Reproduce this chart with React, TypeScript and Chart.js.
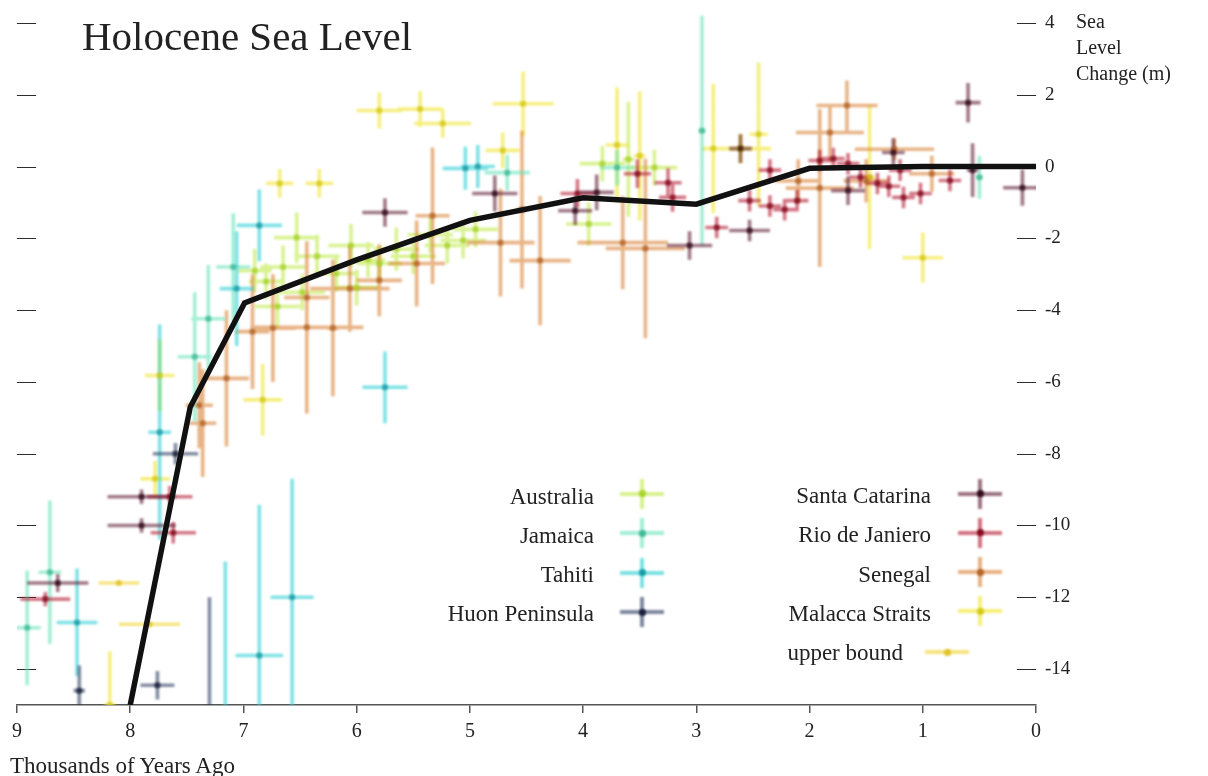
import React, { useEffect, useRef } from "react";
import { Chart, registerables } from "chart.js";

Chart.register(...registerables);

// ---- axis ticks ----
const X_TICKS = [9, 8, 7, 6, 5, 4, 3, 2, 1, 0];
const Y_TICKS = [4, 2, 0, -2, -4, -6, -8, -10, -12, -14];

// ---- fitted sea-level curve (thousands of years ago, metres) ----
const curveAge = [8.0, 7.47, 6.99, 6.0, 5.0, 4.0, 3.0, 2.0, 1.0, 0.0];
const curveLevel = [-15, -6.7, -3.8, -2.6, -1.5, -0.87, -1.05, -0.05, 0, 0];

// ---- observations: [age, level, ageErr, levelErr] ----
const australia = [
  [6.9, -2.9, 0.15, 0.6], [6.8, -3.2, 0.15, 0.5], [6.65, -2.8, 0.2, 0.6],
  [6.53, -1.98, 0.2, 0.7], [6.48, -3.5, 0.2, 0.5], [6.35, -2.5, 0.2, 0.6],
  [6.18, -2.98, 0.2, 0.5], [6.0, -3.37, 0.2, 0.5], [6.05, -2.2, 0.2, 0.6],
  [5.9, -2.6, 0.15, 0.5], [5.8, -2.7, 0.2, 0.5], [5.65, -2.3, 0.2, 0.6],
  [5.5, -2.5, 0.2, 0.5], [5.35, -1.9, 0.2, 0.5], [5.2, -2.2, 0.2, 0.5],
  [5.06, -2.06, 0.2, 0.5], [4.95, -1.75, 0.2, 0.5], [6.7, -3.9, 0.2, 0.6],
  [3.95, -1.6, 0.2, 0.6], [3.83, 0.08, 0.2, 0.5], [3.37, -0.03, 0.2, 0.5],
  [3.6, 0.2, 0.05, 1.6],
];
const jamaica = [
  [8.91, -12.85, 0.12, 1.6], [8.71, -11.3, 0.1, 2.0], [7.43, -5.3, 0.15, 1.8],
  [7.31, -4.24, 0.15, 1.5], [7.09, -2.8, 0.15, 1.5], [4.67, -0.17, 0.2, 0.5],
  [3.7, -0.03, 0.15, 0.5], [2.95, 1.0, 0.03, 3.2], [0.5, -0.3, 0.03, 0.6],
];
const tahiti = [
  [8.47, -12.7, 0.18, 1.5], [7.74, -7.4, 0.1, 3.0], [7.16, -15.5, 0.05, 4.5],
  [7.06, -3.4, 0.15, 1.6], [6.86, -1.64, 0.2, 1.0], [6.86, -13.62, 0.21, 4.2],
  [6.57, -12.0, 0.19, 3.3], [5.75, -6.15, 0.2, 1.0], [5.04, -0.05, 0.2, 0.6],
  [4.93, 0.0, 0.15, 0.6],
];
const huonPeninsula = [
  [8.45, -14.6, 0.05, 0.7], [7.76, -14.45, 0.15, 0.4], [7.3, -15.2, 0.05, 3.2],
  [7.6, -8.0, 0.2, 0.3],
];
const santaCatarina = [
  [7.9, -9.2, 0.3, 0.2], [7.9, -10.0, 0.3, 0.2], [8.64, -11.6, 0.27, 0.25],
  [5.75, -1.28, 0.2, 0.4], [4.78, -0.75, 0.2, 0.5], [4.07, -1.23, 0.15, 0.4],
  [3.88, -0.72, 0.15, 0.5], [3.06, -2.2, 0.2, 0.4], [2.61, 0.5, 0.1, 0.4],
  [2.53, -1.78, 0.18, 0.3], [1.66, -0.67, 0.15, 0.4], [1.26, 0.39, 0.1, 0.4],
  [0.6, 1.78, 0.11, 0.55], [0.56, -0.1, 0.05, 0.75], [0.12, -0.59, 0.17, 0.5],
];
const rioDeJaniero = [
  [7.65, -9.2, 0.2, 0.3], [7.62, -10.2, 0.2, 0.3], [8.75, -12.05, 0.22, 0.2],
  [4.05, -0.75, 0.15, 0.4], [3.52, -0.2, 0.12, 0.4], [3.25, -0.45, 0.12, 0.4],
  [3.21, -0.86, 0.12, 0.4], [2.82, -1.7, 0.1, 0.3], [2.53, -0.95, 0.1, 0.3],
  [2.35, -0.1, 0.1, 0.3], [2.35, -1.1, 0.1, 0.3], [2.22, -1.2, 0.1, 0.3],
  [2.11, -0.95, 0.1, 0.3], [1.91, 0.17, 0.1, 0.3], [1.79, 0.22, 0.1, 0.3],
  [1.66, 0.08, 0.1, 0.3], [1.4, -0.47, 0.1, 0.3], [1.2, -0.1, 0.1, 0.3],
  [1.17, -0.86, 0.1, 0.3], [1.02, -0.75, 0.1, 0.3], [0.76, -0.39, 0.1, 0.3],
  [1.55, -0.3, 0.1, 0.3], [1.3, -0.55, 0.1, 0.3],
];
const senegal = [
  [7.39, -6.65, 0.12, 1.2], [7.36, -7.15, 0.12, 1.5], [7.15, -5.9, 0.2, 1.9],
  [6.92, -4.6, 0.15, 1.6], [6.74, -4.5, 0.2, 1.5], [6.44, -4.48, 0.5, 2.4],
  [6.44, -3.65, 0.2, 1.0], [6.21, -4.5, 0.05, 1.9], [6.06, -3.4, 0.35, 1.2],
  [5.8, -3.17, 0.2, 1.0], [5.47, -2.7, 0.25, 1.2], [5.33, -1.37, 0.15, 1.9],
  [4.73, -2.12, 0.3, 1.5], [4.38, -2.62, 0.27, 1.8], [4.54, -1.2, 0.05, 2.2],
  [3.65, -2.12, 0.4, 1.3], [3.45, -2.28, 0.35, 2.5], [1.91, -0.6, 0.3, 2.2],
  [1.82, 0.95, 0.3, 0.8], [1.67, 1.7, 0.27, 0.7], [1.25, 0.48, 0.35, 0.3],
  [2.1, -0.4, 0.2, 0.6], [1.5, -0.4, 0.2, 0.6], [0.92, -0.2, 0.2, 0.5],
];
const malaccaStraits = [
  [8.18, -15.0, 0.05, 1.5], [7.78, -8.7, 0.13, 0.5], [7.74, -5.82, 0.13, 1.0],
  [6.83, -6.5, 0.17, 1.0], [6.68, -0.47, 0.12, 0.4], [6.33, -0.47, 0.12, 0.4],
  [5.8, 1.56, 0.2, 0.5], [5.44, 1.6, 0.2, 0.5], [5.24, 1.2, 0.25, 0.4],
  [4.53, 1.75, 0.27, 0.9], [4.71, 0.45, 0.15, 0.5], [3.7, 0.6, 0.1, 1.6],
  [3.5, 0.3, 0.05, 1.8], [2.85, 0.5, 0.1, 1.8], [2.61, 0.5, 0.27, 0.4],
  [2.45, 0.9, 0.08, 2.0], [1.47, -0.3, 0.05, 2.0], [1.0, -2.54, 0.18, 0.7],
];
const upperBound = [
  [8.1, -11.6, 0.18, 0], [7.83, -12.75, 0.27, 0],
];

// ---- styles ----
type Style = { name: string; rows: number[][]; bar: number[]; dot: number[] };
const SERIES: Style[] = [
  { name: "Santa Catarina", rows: santaCatarina, bar: [90, 20, 45], dot: [40, 5, 20] },
  { name: "Rio de Janiero", rows: rioDeJaniero, bar: [180, 20, 45], dot: [125, 5, 25] },
  { name: "Huon Peninsula", rows: huonPeninsula, bar: [40, 55, 95], dot: [20, 25, 50] },
  { name: "Tahiti", rows: tahiti, bar: [35, 205, 210], dot: [20, 150, 160] },
  { name: "Jamaica", rows: jamaica, bar: [100, 225, 185], dot: [60, 180, 145] },
  { name: "Senegal", rows: senegal, bar: [215, 125, 45], dot: [175, 95, 35] },
  { name: "Malacca Straits", rows: malaccaStraits, bar: [240, 228, 35], dot: [210, 198, 20] },
  { name: "upper bound", rows: upperBound, bar: [240, 210, 40], dot: [222, 190, 30] },
  { name: "Australia", rows: australia, bar: [190, 232, 65], dot: [165, 208, 40] },
];
const rgba = (c: number[], a: number) => `rgba(${c[0]},${c[1]},${c[2]},${a})`;
const byName = (n: string) => SERIES.find((s) => s.name === n)!;

const FONT = '"Liberation Serif", "Times New Roman", serif';

function errorData(rows: number[][]) {
  const out: any[] = [];
  for (const [a, v, ea, ev] of rows) {
    out.push({ x: a - ea, y: v }, { x: a + ea, y: v }, { x: a, y: null });
    if (ev) out.push({ x: a, y: v - ev }, { x: a, y: v + ev }, { x: a, y: null });
  }
  return out;
}

const blurPlugin = {
  id: "blurMarks",
  beforeDatasetDraw(chart: any, args: any) {
    const ds = chart.data.datasets[args.index];
    if (ds.blurPx) chart.ctx.filter = `blur(${ds.blurPx}px)`;
  },
  afterDatasetDraw(chart: any) {
    chart.ctx.filter = "none";
  },
};

// ---- legend layout ----
const LEGEND_LEFT = ["Australia", "Jamaica", "Tahiti", "Huon Peninsula"];
const LEGEND_RIGHT = ["Santa Catarina", "Rio de Janiero", "Senegal", "Malacca Straits"];

function Cross({ s, cx, cy, vertical = true }: { s: Style; cx: number; cy: number; vertical?: boolean }) {
  return (
    <>
      <div style={{ position: "absolute", left: cx - 22, top: cy - 2, width: 44, height: 4, background: rgba(s.bar, 0.6), filter: "blur(1.2px)" }} />
      {vertical && (
        <div style={{ position: "absolute", left: cx - 2, top: cy - 15, width: 4, height: 30, background: rgba(s.bar, 0.6), filter: "blur(1.2px)" }} />
      )}
      <div style={{ position: "absolute", left: cx - 3.5, top: cy - 3.5, width: 7, height: 7, borderRadius: "50%", background: rgba(s.dot, 0.9), filter: "blur(1px)" }} />
    </>
  );
}

function Label({ text, right, baseline, size }: { text: string; right: number; baseline: number; size: number }) {
  return (
    <div style={{ position: "absolute", left: right - 300, width: 300, top: baseline - 0.8375 * size, fontSize: size, lineHeight: 1, textAlign: "right", whiteSpace: "nowrap" }}>
      {text}
    </div>
  );
}

export default function App() {
  const ref = useRef<HTMLCanvasElement>(null);

  useEffect(() => {
    const datasets: any[] = [];
    datasets.push({
      label: "fit",
      data: curveAge.map((a, i) => ({ x: a, y: curveLevel[i] })),
      showLine: true,
      borderColor: "#111",
      borderWidth: 5.5,
      pointRadius: 0,
      borderJoinStyle: "miter",
      yAxisID: "y",
      xAxisID: "x",
    });
    for (const s of SERIES) {
      datasets.push({
        label: s.name + " points",
        data: s.rows.map((r) => ({ x: r[0], y: r[1] })),
        showLine: false,
        pointRadius: 3,
        pointBackgroundColor: rgba(s.dot, 0.8),
        pointBorderWidth: 0,
        blurPx: 1,
        yAxisID: "y",
        xAxisID: "x",
      });
    }
    for (const s of SERIES) {
      datasets.push({
        label: s.name + " errors",
        data: errorData(s.rows),
        showLine: true,
        spanGaps: false,
        borderColor: rgba(s.bar, 0.58),
        borderWidth: 3.6,
        pointRadius: 0,
        blurPx: 1.3,
        yAxisID: "y",
        xAxisID: "x",
      });
    }

    const tickFont = { family: FONT, size: 19 };
    const yBase = {
      type: "linear",
      min: -15,
      max: 4.5,
      afterBuildTicks: (s: any) => { s.ticks = Y_TICKS.map((v) => ({ value: v })); },
      grid: { display: false, drawTicks: false },
      border: { display: false },
    };
    const chart = new Chart(ref.current!, {
      type: "scatter",
      data: { datasets },
      plugins: [blurPlugin],
      options: {
        responsive: false,
        animation: false,
        events: [],
        layout: { padding: { top: 5, left: 17, right: 0, bottom: 0 } },
        plugins: { legend: { display: false }, tooltip: { enabled: false }, title: { display: false } },
        scales: {
          x: {
            type: "linear",
            position: "bottom",
            min: 0,
            max: 9,
            reverse: true,
            afterBuildTicks: (s: any) => { s.ticks = X_TICKS.map((v) => ({ value: v })); },
            afterFit: (s: any) => { s.height = 71; s.paddingLeft = 0; s.paddingRight = 0; },
            grid: { drawOnChartArea: false, drawTicks: true, tickLength: 8, color: "#555", lineWidth: 1.5 },
            border: { display: true, color: "#555", width: 1.5 },
            ticks: { font: { family: FONT, size: 20 }, color: "#222", padding: 7, maxRotation: 0, autoSkip: false, callback: (v: any) => String(v) },
          },
          yL: {
            ...yBase,
            position: "left",
            afterFit: (s: any) => { s.width = 0; s.paddingTop = 0; s.paddingBottom = 0; },
            ticks: { mirror: true, padding: 0, font: tickFont, color: "#222", autoSkip: false, callback: () => "\u2014" },
          },
          yDash: {
            ...yBase,
            position: "right",
            weight: 0,
            afterFit: (s: any) => { s.width = 0; s.paddingTop = 0; s.paddingBottom = 0; },
            ticks: { mirror: true, padding: 0, font: tickFont, color: "#222", autoSkip: false, callback: () => "\u2014" },
          },
          y: {
            ...yBase,
            position: "right",
            weight: 5,
            afterFit: (s: any) => { s.width = 172; s.paddingTop = 0; s.paddingBottom = 0; },
            ticks: { padding: 9, font: tickFont, color: "#222", autoSkip: false, callback: (v: any) => String(v) },
          },
        },
      } as any,
    });
    return () => chart.destroy();
  }, []);

  return (
    <div style={{ position: "absolute", left: 0, top: 0, width: 1208, height: 776, background: "#fff", fontFamily: FONT, color: "#222", overflow: "hidden" }}>
      <canvas ref={ref} width={1208} height={776} style={{ position: "absolute", left: 0, top: 0 }} />
      <div style={{ position: "absolute", left: 82, top: 50 - 0.8375 * 41, fontSize: 41, lineHeight: 1, whiteSpace: "nowrap" }}>
        Holocene Sea Level
      </div>
      <div style={{ position: "absolute", left: 1076, top: 8, fontSize: 20, lineHeight: "26px" }}>
        <div>Sea</div>
        <div>Level</div>
        <div style={{ whiteSpace: "nowrap" }}>Change (m)</div>
      </div>
      <div style={{ position: "absolute", left: 10, top: 773 - 0.8375 * 23, fontSize: 23, lineHeight: 1, whiteSpace: "nowrap" }}>
        Thousands of Years Ago
      </div>
      {LEGEND_LEFT.map((n, i) => (
        <React.Fragment key={n}>
          <Label text={n} right={594} baseline={504 + i * 39.2} size={23} />
          <Cross s={byName(n)} cx={642} cy={493.5 + i * 39.5} />
        </React.Fragment>
      ))}
      {LEGEND_RIGHT.map((n, i) => (
        <React.Fragment key={n}>
          <Label text={n} right={931} baseline={503.5 + i * 39.2} size={23} />
          <Cross s={byName(n)} cx={980} cy={493.5 + i * 39.3} />
        </React.Fragment>
      ))}
      <Label text="upper bound" right={903} baseline={660} size={23} />
      <Cross s={byName("upper bound")} cx={947} cy={652} vertical={false} />
    </div>
  );
}
